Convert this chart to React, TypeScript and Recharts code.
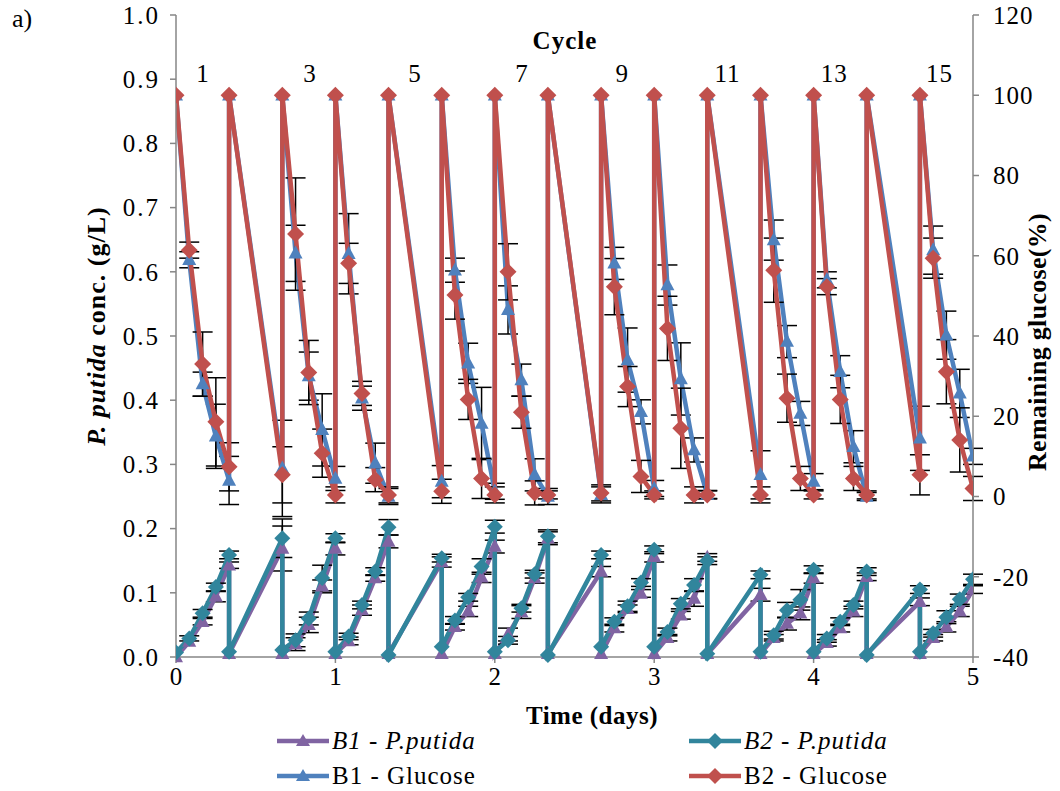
import React from 'react';
import { ComposedChart, Line, XAxis, YAxis, ErrorBar, ReferenceDot, Label } from 'recharts';

const FONT = "'Liberation Serif', 'Times New Roman', serif";

// sampling times (days); repeated times are the reset points between cycles
const timeDays = [
  0, 0.083, 0.167, 0.25, 0.333, 0.333, 0.667, 0.667, 0.75, 0.833, 0.917, 1.0,
  1.0, 1.083, 1.167, 1.25, 1.333, 1.333, 1.667, 1.667, 1.75, 1.833, 1.917, 2.0,
  2.0, 2.083, 2.167, 2.25, 2.333, 2.333, 2.667, 2.667, 2.75, 2.833, 2.917, 3.0,
  3.0, 3.083, 3.167, 3.25, 3.333, 3.333, 3.667, 3.667, 3.75, 3.833, 3.917, 4.0,
  4.0, 4.083, 4.167, 4.25, 4.333, 4.333, 4.667, 4.667, 4.75, 4.833, 4.917, 5.0,
];

// P. putida (g/L)
const b1Putida = [
  0.0, 0.024, 0.055, 0.094, 0.143, 0.005, 0.169, 0.005, 0.02, 0.05, 0.11, 0.169,
  0.005, 0.025, 0.073, 0.123, 0.18, 0.005, 0.148, 0.005, 0.047, 0.071, 0.124, 0.172,
  0.005, 0.035, 0.07, 0.123, 0.185, 0.005, 0.133, 0.005, 0.045, 0.075, 0.099, 0.156,
  0.005, 0.03, 0.065, 0.091, 0.155, 0.005, 0.097, 0.005, 0.03, 0.052, 0.068, 0.123,
  0.005, 0.022, 0.045, 0.071, 0.125, 0.005, 0.086, 0.005, 0.03, 0.047, 0.071, 0.105,
];
const b2Putida = [
  0.007, 0.029, 0.068, 0.109, 0.159, 0.008, 0.185, 0.011, 0.026, 0.06, 0.123, 0.185,
  0.008, 0.032, 0.081, 0.133, 0.202, 0.003, 0.154, 0.016, 0.057, 0.093, 0.141, 0.203,
  0.008, 0.026, 0.076, 0.129, 0.188, 0.003, 0.159, 0.016, 0.055, 0.079, 0.116, 0.167,
  0.016, 0.039, 0.083, 0.112, 0.15, 0.005, 0.128, 0.008, 0.034, 0.073, 0.089, 0.136,
  0.008, 0.029, 0.055, 0.081, 0.133, 0.003, 0.105, 0.008, 0.037, 0.062, 0.09, 0.121,
];
const b1PutidaErr = [
  0, 0, 0.005, 0.008, 0.005, 0, 0.035, 0, 0.01, 0.012, 0.01, 0.01,
  0, 0.006, 0.008, 0.005, 0.01, 0, 0.008, 0, 0.005, 0.008, 0.008, 0.01,
  0, 0.01, 0.01, 0.008, 0.01, 0, 0.008, 0, 0.006, 0.006, 0.006, 0.008,
  0, 0.005, 0.006, 0.012, 0.006, 0, 0.01, 0, 0.005, 0.01, 0.01, 0.008,
  0, 0.005, 0.006, 0.008, 0.006, 0, 0.006, 0, 0.005, 0.008, 0.008, 0.006,
];
const b2PutidaErr = [
  0, 0.004, 0.006, 0.006, 0.006, 0, 0.03, 0, 0.01, 0.01, 0.02, 0.007,
  0, 0.005, 0.006, 0.006, 0.012, 0, 0.006, 0, 0.006, 0.006, 0.012, 0.01,
  0, 0.006, 0.006, 0.006, 0.01, 0, 0.006, 0, 0.006, 0.008, 0.006, 0.006,
  0, 0.006, 0.008, 0.01, 0.006, 0, 0.006, 0, 0.006, 0.012, 0.016, 0.006,
  0, 0.006, 0.006, 0.006, 0.006, 0, 0.006, 0, 0.006, 0.01, 0.008, 0.008,
];

// remaining glucose (%)
const b1Glucose = [
  100, 59, 28, 15, 4, 100, 7, 100, 60.6, 30, 16.6, 4.5,
  100, 60.5, 24.5, 8.3, 0, 100, 3.7, 100, 56.4, 33.2, 18.2, 1.3,
  100, 46.5, 29, 5.4, 0, 100, 0.4, 100, 58.1, 34, 21.1, 2,
  100, 52.7, 29.3, 11.6, 0.5, 100, 5.4, 100, 63.9, 38.6, 20.7, 3.7,
  100, 54, 31.1, 12.4, 0, 100, 14.5, 100, 61.4, 40.2, 25.7, 10,
];
const b2Glucose = [
  100, 61.4, 33, 18.6, 7.4, 100, 5.4, 100, 65.4, 30.9, 10.8, 0.4,
  100, 58.1, 25.7, 4.2, 0.4, 100, 1.3, 100, 50.2, 24.2, 4.5, 0.4,
  100, 56, 21, 0.9, 0.4, 100, 0.9, 100, 52.3, 27.4, 5, 0.4,
  100, 41.9, 17, 0.4, 0.4, 100, 0.4, 100, 56.4, 24.5, 4.5, 0.4,
  100, 52.3, 24.2, 4.5, 0.4, 100, 5.4, 100, 59.4, 31.1, 14.1, 2,
];
const b1GlucoseErr = [
  0, 2, 3, 8, 6, 0, 12, 0, 7, 6, 9, 3,
  0, 10, 3, 5, 2, 0, 4, 0, 3, 5, 9, 2,
  0, 6, 4, 4, 2, 0, 2, 0, 4, 8, 3, 2,
  0, 5, 9, 3, 1, 0, 6, 0, 5, 4, 3, 2,
  0, 2, 4, 4, 1, 0, 8, 0, 6, 6, 6, 2,
];
const b2GlucoseErr = [
  0, 2, 8, 11, 6, 0, 7, 0, 14, 8, 6, 2,
  0, 5, 3, 3, 2, 0, 3, 0, 6, 5, 5, 2,
  0, 7, 4, 3, 1, 0, 2, 0, 7, 5, 4, 1,
  0, 8, 10, 2, 1, 0, 2, 0, 8, 6, 3, 1,
  0, 2, 6, 3, 1, 0, 5, 0, 5, 8, 8, 3,
];

const cycleNames = ['1', '3', '5', '7', '9', '11', '13', '15'];
const cycleAt = [0.17, 0.84, 1.5, 2.17, 2.8, 3.46, 4.13, 4.79];

const leftTicks = [0, 0.1, 0.2, 0.3, 0.4, 0.5, 0.6, 0.7, 0.8, 0.9, 1.0];
const rightTicks = [-40, -20, 0, 20, 40, 60, 80, 100, 120];
const dayTicks = [0, 1, 2, 3, 4, 5];

const PURPLE = '#8064A2';
const TEAL = '#31859C';
const BLUE = '#4F81BD';
const RED = '#C0504D';
const AXIS = '#868686';

const rows = (vals: number[], errs: number[]) =>
  timeDays.map((t, i) => ({ t, v: vals[i], e: errs[i] }));

const triDot = (color: string, w: number, h: number) => (p: any) => {
  const { cx, cy, index } = p;
  if (cx == null || cy == null) return <g key={`t${index}`} />;
  return (
    <path
      key={`t${index}`}
      d={`M${cx},${cy - h * 0.6}L${cx + w / 2},${cy + h * 0.4}L${cx - w / 2},${cy + h * 0.4}Z`}
      fill={color}
    />
  );
};

const diaDot = (color: string, s: number) => (p: any) => {
  const { cx, cy, index } = p;
  if (cx == null || cy == null) return <g key={`d${index}`} />;
  return (
    <path
      key={`d${index}`}
      d={`M${cx},${cy - s}L${cx + s},${cy}L${cx},${cy + s}L${cx - s},${cy}Z`}
      fill={color}
    />
  );
};

const LegendIcon = ({ color, marker }: { color: string; marker: 'tri' | 'dia' }) => (
  <svg width={54} height={20} style={{ verticalAlign: 'middle' }}>
    <line x1={1} y1={10} x2={53} y2={10} stroke={color} strokeWidth={4.5} />
    {marker === 'tri' ? (
      <path d="M27,3L34,15L20,15Z" fill={color} />
    ) : (
      <path d="M27,2L35,10L27,18L19,10Z" fill={color} />
    )}
  </svg>
);

const legendItems = [
  { name: 'B1 - P.putida', color: PURPLE, marker: 'tri' as const, italic: true, left: 276, top: 727 },
  { name: 'B2 - P.putida', color: TEAL, marker: 'dia' as const, italic: true, left: 688, top: 727 },
  { name: 'B1 - Glucose', color: BLUE, marker: 'tri' as const, italic: false, left: 276, top: 762 },
  { name: 'B2 - Glucose', color: RED, marker: 'dia' as const, italic: false, left: 688, top: 762 },
];

const App: React.FC = () => {
  const tickStyle = { fill: '#000', fontSize: 25, fontFamily: FONT, letterSpacing: 2 };

  return (
    <div style={{ position: 'absolute', left: 0, top: 0, width: 1060, height: 791, background: '#fff', fontFamily: FONT }}>
      <div style={{ position: 'absolute', left: 12, top: 4, fontSize: 26 }}>a)</div>
      <ComposedChart width={1060} height={791} margin={{ top: 15, right: 0, bottom: 0, left: 0 }}>
        <XAxis
          type="number"
          dataKey="t"
          domain={[0, 5]}
          ticks={dayTicks}
          allowDataOverflow
          height={134}
          stroke={AXIS}
          strokeWidth={1.5}
          tickSize={6}
          tickMargin={4}
          tick={{ ...tickStyle, letterSpacing: 0 }}
        >
          <Label
            content={() => (
              <text x={592} y={724} textAnchor="middle" fontFamily={FONT} fontWeight="bold" fontSize={25} letterSpacing={0.5}>
                Time (days)
              </text>
            )}
          />
        </XAxis>
        <YAxis
          yAxisId="left"
          domain={[0, 1]}
          ticks={leftTicks}
          width={176}
          stroke={AXIS}
          strokeWidth={1.5}
          tickSize={6}
          tickMargin={10}
          tick={tickStyle}
          tickFormatter={(v: number) => v.toFixed(1)}
        >
          <Label
            content={() => (
              <text
                x={99}
                y={326}
                transform="rotate(-90 99 326)"
                textAnchor="middle"
                dominantBaseline="middle"
                fontFamily={FONT}
                fontWeight="bold"
                fontSize={26}
                letterSpacing={1}
              >
                <tspan fontStyle="italic">P. putida</tspan>
                <tspan> conc. (g/L)</tspan>
              </text>
            )}
          />
        </YAxis>
        <YAxis
          yAxisId="right"
          orientation="right"
          domain={[-40, 120]}
          ticks={rightTicks}
          width={87}
          stroke={AXIS}
          strokeWidth={1.5}
          tickSize={6}
          tickMargin={14}
          tick={{ ...tickStyle, letterSpacing: 1, textAnchor: 'start' }}
        >
          <Label
            content={() => (
              <text
                x={1040}
                y={342}
                transform="rotate(-90 1040 342)"
                textAnchor="middle"
                dominantBaseline="middle"
                fontFamily={FONT}
                fontWeight="bold"
                fontSize={26}
                letterSpacing={0.3}
              >
                Remaining glucose(%)
              </text>
            )}
          />
        </YAxis>

        <Line
          data={rows(b1Putida, b1PutidaErr)}
          dataKey="v"
          name="B1 - P.putida"
          yAxisId="left"
          type="linear"
          stroke={PURPLE}
          strokeWidth={4.5}
          dot={triDot(PURPLE, 14, 13)}
          activeDot={false}
          isAnimationActive={false}
        >
          <ErrorBar dataKey="e" direction="y" width={10} stroke="#000" strokeWidth={1.5} />
        </Line>
        <Line
          data={rows(b2Putida, b2PutidaErr)}
          dataKey="v"
          name="B2 - P.putida"
          yAxisId="left"
          type="linear"
          stroke={TEAL}
          strokeWidth={4.5}
          dot={diaDot(TEAL, 8)}
          activeDot={false}
          isAnimationActive={false}
        >
          <ErrorBar dataKey="e" direction="y" width={10} stroke="#000" strokeWidth={1.5} />
        </Line>
        <Line
          data={rows(b1Glucose, b1GlucoseErr)}
          dataKey="v"
          name="B1 - Glucose"
          yAxisId="right"
          type="linear"
          stroke={BLUE}
          strokeWidth={4.5}
          dot={triDot(BLUE, 14, 13)}
          activeDot={false}
          isAnimationActive={false}
        >
          <ErrorBar dataKey="e" direction="y" width={10} stroke="#000" strokeWidth={1.5} />
        </Line>
        <Line
          data={rows(b2Glucose, b2GlucoseErr)}
          dataKey="v"
          name="B2 - Glucose"
          yAxisId="right"
          type="linear"
          stroke={RED}
          strokeWidth={4.5}
          dot={diaDot(RED, 8.5)}
          activeDot={false}
          isAnimationActive={false}
        >
          <ErrorBar dataKey="e" direction="y" width={10} stroke="#000" strokeWidth={1.5} />
        </Line>

        <ReferenceDot
          x={2.44}
          y={0.961}
          yAxisId="left"
          r={0}
          fill="none"
          stroke="none"
          label={{ value: 'Cycle', position: 'center', fill: '#000', fontSize: 25, fontWeight: 'bold', fontFamily: FONT, letterSpacing: 1 }}
        />
        {cycleNames.map((c, i) => (
          <ReferenceDot
            key={c}
            x={cycleAt[i]}
            y={0.91}
            yAxisId="left"
            r={0}
            fill="none"
            stroke="none"
            label={{ value: c, position: 'center', fill: '#000', fontSize: 25, fontFamily: FONT, letterSpacing: 1 }}
          />
        ))}
      </ComposedChart>

      {legendItems.map((it) => (
        <div
          key={it.name}
          style={{ position: 'absolute', left: it.left, top: it.top, display: 'flex', alignItems: 'center', fontSize: 25, letterSpacing: 1, fontStyle: it.italic ? 'italic' : 'normal', whiteSpace: 'nowrap' }}
        >
          <LegendIcon color={it.color} marker={it.marker} />
          <span style={{ marginLeft: 2 }}>{it.name}</span>
        </div>
      ))}
    </div>
  );
};

export default App;
